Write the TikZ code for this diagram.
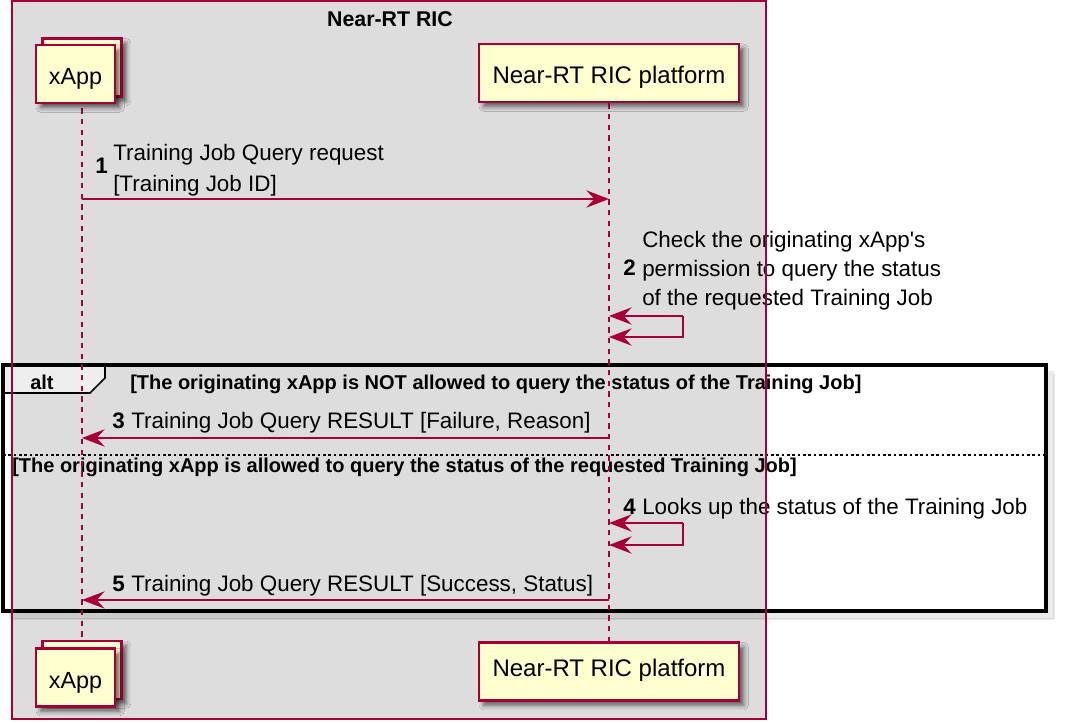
\documentclass[tikz,border=0pt]{standalone}
\usepackage{fontspec}
\setmainfont{Liberation Sans}
\usetikzlibrary{arrows.meta,shadows.blur}

\definecolor{ricred}{HTML}{A80036}
\definecolor{partyellow}{HTML}{FEFECE}
\definecolor{ricgray}{HTML}{DDDDDD}
\definecolor{altgray}{HTML}{EEEEEE}

\tikzset{
  partbox/.style={draw=ricred, line width=2pt, fill=partyellow, minimum height=43.5pt, inner sep=0pt,
    font=\fontsize{18}{21}\selectfont, text height=16pt, text depth=0pt,
    blur shadow={shadow xshift=3.5pt, shadow yshift=-3.5pt, shadow blur radius=3.5pt, shadow opacity=60}},
  lifeline/.style={ricred, line width=0.9pt, dash pattern=on 4pt off 4pt},
  msg/.style={ricred, line width=1.3pt, -{Stealth[length=17pt, width=13pt, inset=6pt]}},
  msgtext/.style={inner sep=0pt, font=\fontsize{16.8}{22}\selectfont},
  msgnum/.style={inner sep=0pt, font=\fontsize{16.8}{22}\selectfont\bfseries},
  guard/.style={inner sep=0pt, font=\fontsize{15}{18}\selectfont\bfseries}
}

\begin{document}
\begin{tikzpicture}[x=0.75pt, y=-0.75pt]
\useasboundingbox (0,0) rectangle (1067,723);
\fill[white] (0,0) rectangle (1067,723);

% Near-RT RIC box background
\fill[ricgray] (12,1) rectangle (766,719);

% alt frame with its tab and the else line
\draw[line width=4pt, black, opacity=0.08] (1051,371) -- (1051,616) -- (9,616);
\draw[line width=2pt, black, opacity=0.08] (1054,374) -- (1054,619) -- (12,619);
\draw[fill=altgray, line width=1.3pt] (3,365) -- (105,365) -- (105,378) -- (90,393) -- (3,393) -- cycle;
\draw[line width=3pt] (3,365) rectangle (1046,611);
\draw[line width=0.9pt, dash pattern=on 2pt off 2pt] (3,455) -- (1046,455);

\node[guard, anchor=base west] (altlbl) at (30,389) {alt};
\node[guard, anchor=base west] (g1) at (130,389) {[The originating xApp is NOT allowed to query the status of the Training Job]};
\node[guard, anchor=base west] (g2) at (12,472) {[The originating xApp is allowed to query the status of the requested Training Job]};

% participants (back boxes of the xApp stack first)
\node[partbox, minimum width=59.25pt] (xappTopB) at (82,67.5) {};
\node[partbox, minimum width=59.25pt] (xappBotB) at (82,670) {};
\node[partbox, minimum width=195pt] (platTop) at (609,73) {Near-RT RIC platform};
\node[partbox, minimum width=195pt, text height=8pt] (platBot) at (609,671.5) {Near-RT RIC platform};

% lifelines
\draw[lifeline] (xappTopB.south) -- (xappBotB.north);
\draw[lifeline] (platTop.south) -- (platBot.north);

\node[partbox, minimum width=59.25pt, font=\fontsize{17.5}{21}\selectfont] (xappTop) at (75.5,74) {xApp};
\node[partbox, minimum width=59.25pt, font=\fontsize{17.5}{21}\selectfont] (xappBot) at (75.5,677.5) {xApp};

% points on the lifelines for each message
\foreach \n/\y in {1/199, 2/316, 22/337, 3/438, 4/523, 44/545, 5/600} {
    \coordinate (a\n) at (xappTopB.center |- 0,\y);
    \coordinate (b\n) at (platTop.center |- 0,\y);
    \coordinate (r\n) at (683,\y);
}

% messages
\draw[msg] (a1) -- (b1);
\draw[msg] (r2) -- (b2);
\draw[msg] (r2) |- (b22);
\draw[msg] (b3) -- (a3);
\draw[msg] (r4) -- (b4);
\draw[msg] (r4) |- (b44);
\draw[msg] (b5) -- (a5);

\node[msgnum, anchor=base west] (n1) at (95,174) {1};
\node[msgtext, anchor=north west, align=left, font=\fontsize{16.8}{23.2}\selectfont] (t1) at (113,144) {Training Job Query request\\{[Training Job ID]}};
\node[msgnum, anchor=base west] (n2) at (623,276) {2};
\node[msgtext, anchor=north west, align=left, font=\fontsize{16.8}{21.75}\selectfont] (t2) at (642,231) {Check the originating xApp\textquotesingle s\\permission to query the status\\of the requested Training Job};
\node[msgnum, anchor=base west] (n3) at (112,428) {3};
\node[msgtext, anchor=base west] (t3) at (131,428) {Training Job Query RESULT [Failure, Reason]};
\node[msgnum, anchor=base west] (n4) at (623,514) {4};
\node[msgtext, anchor=base west] (t4) at (642,514) {Looks up the status of the Training Job};
\node[msgnum, anchor=base west] (n5) at (112,591) {5};
\node[msgtext, anchor=base west] (t5) at (131,591) {Training Job Query RESULT [Success, Status]};

% RIC border and title
\draw[ricred, line width=1.2pt] (12,1) rectangle (766,719);
\node[font=\fontsize{16}{19}\selectfont\bfseries, anchor=base] (ric) at (390,27) {Near-RT RIC};

\end{tikzpicture}
\end{document}
